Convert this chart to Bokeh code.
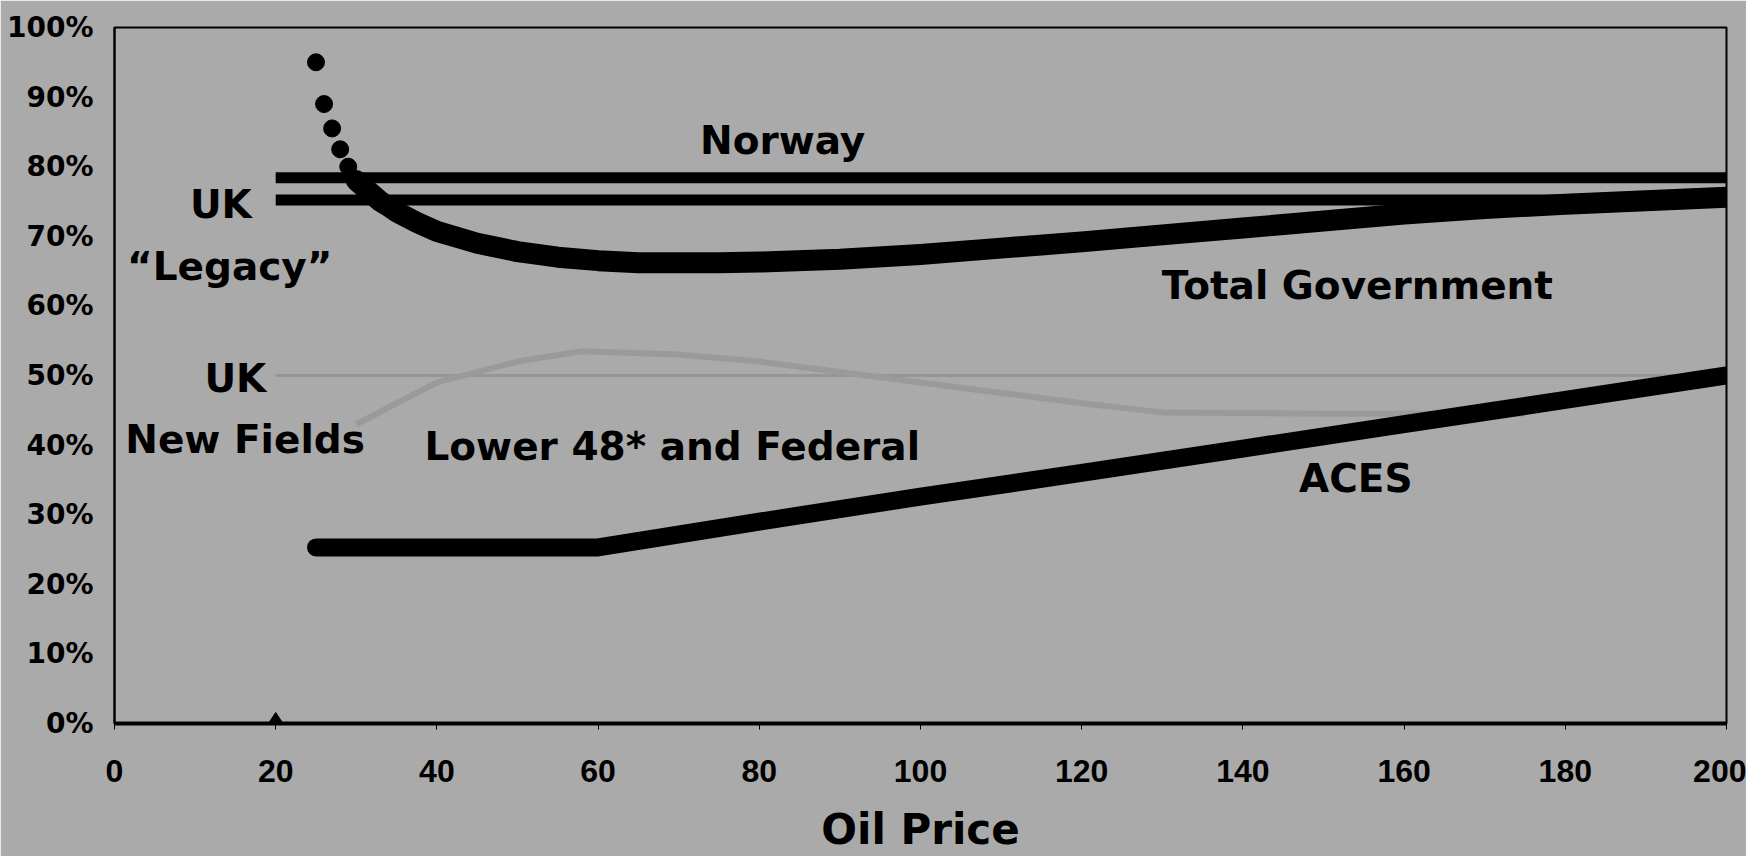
from bokeh.plotting import figure
from bokeh.models import Label, FixedTicker, NumeralTickFormatter
from bokeh.embed import file_html
from bokeh.resources import INLINE

# ---- data ----
x_ticks = [0, 20, 40, 60, 80, 100, 120, 140, 160, 180, 200]
y_ticks = [0.0, 0.1, 0.2, 0.3, 0.4, 0.5, 0.6, 0.7, 0.8, 0.9, 1.0]

norway_price = [20, 200]
norway_share = [0.784, 0.784]

uk_legacy_price = [20, 200]
uk_legacy_share = [0.752, 0.752]

total_gov_price = [25, 26, 27, 28, 29, 30, 31, 32, 33, 34, 35, 37.5, 40, 45, 50, 55, 60, 65, 70,
                   75, 80, 90, 100, 110, 120, 130, 140, 150, 160, 170, 180, 190, 200]
total_gov_share = [0.95, 0.89, 0.855, 0.825, 0.80, 0.78, 0.77, 0.76, 0.75, 0.743, 0.735, 0.72, 0.707,
                   0.69, 0.678, 0.67, 0.665, 0.662, 0.662, 0.662, 0.663, 0.667, 0.674, 0.683, 0.692,
                   0.702, 0.712, 0.722, 0.732, 0.74, 0.746, 0.751, 0.756]

aces_price = [25, 60, 80, 100, 120, 140, 160, 180, 200]
aces_share = [0.253, 0.253, 0.29, 0.326, 0.36, 0.395, 0.43, 0.465, 0.50]

uk_new_price = [20, 197]
uk_new_share = [0.50, 0.50]

lower48_price = [30, 40, 50, 58, 70, 80, 90, 100, 110, 120, 130, 150, 175]
lower48_share = [0.43, 0.49, 0.52, 0.535, 0.53, 0.52, 0.505, 0.49, 0.475, 0.46, 0.447, 0.445, 0.445]

marker_price = [20]
marker_share = [0.0]

x_title = "Oil Price"

BG = "#aaaaaa"
BOLD = "DejaVu Sans"

p = figure(width=1746, height=856, x_range=(0, 200), y_range=(0, 1.0),
           output_backend="svg", toolbar_location=None,
           min_border_left=114, min_border_right=20, min_border_top=27, min_border_bottom=133)
p.background_fill_color = BG
p.border_fill_color = BG
p.outline_line_color = "black"
p.outline_line_width = 2
p.grid.visible = False

# axes
p.xaxis.ticker = FixedTicker(ticks=x_ticks)
p.yaxis.ticker = FixedTicker(ticks=y_ticks)
p.yaxis.formatter = NumeralTickFormatter(format="0%")
p.xaxis.minor_tick_line_color = None
p.yaxis.minor_tick_line_color = None
p.yaxis.major_tick_line_color = None
p.yaxis.axis_line_width = 2
p.xaxis.axis_line_width = 4
p.xaxis.major_tick_out = 6
p.xaxis.major_tick_in = 0
p.xaxis.major_tick_line_width = 1
p.yaxis.major_label_standoff = 15
p.yaxis.major_label_text_font = BOLD
p.yaxis.major_label_text_font_style = "bold"
p.yaxis.major_label_text_font_size = "28px"
p.yaxis.major_label_text_color = "black"
p.xaxis.major_label_text_font = "Liberation Sans"
p.xaxis.major_label_text_font_style = "bold"
p.xaxis.major_label_text_font_size = "32px"
p.xaxis.major_label_text_color = "black"
p.xaxis.major_label_standoff = 30
p.xaxis.axis_label = x_title
p.xaxis.axis_label_text_font = BOLD
p.xaxis.axis_label_text_font_style = "bold"
p.xaxis.axis_label_text_font_size = "42px"
p.xaxis.axis_label_text_color = "black"
p.xaxis.axis_label_standoff = 20

# faint series
p.line(uk_new_price, uk_new_share, line_color="#969696", line_width=3)
p.line(lower48_price, lower48_share, line_color="#9a9a9a", line_width=6)

# main series
p.line(norway_price, norway_share, line_color="black", line_width=11)
p.line(uk_legacy_price, uk_legacy_share, line_color="black", line_width=11)

split = total_gov_price.index(30)
p.line(total_gov_price[split:], total_gov_share[split:], line_color="black", line_width=21,
       line_cap="round", line_join="round")
p.scatter(total_gov_price[:split + 1], total_gov_share[:split + 1], size=17,
          fill_color="black", line_color="black")

p.line(aces_price, aces_share, line_color="black", line_width=18, line_cap="round", line_join="round")

p.scatter(marker_price, marker_share, marker="diamond", size=22, fill_color="black", line_color="black")

# annotations
labels = [
    ("Norway", 82.9, 0.837),
    ("UK", 13.2, 0.745),
    ("\u201cLegacy\u201d", 14.3, 0.657),
    ("UK", 15.0, 0.495),
    ("New Fields", 16.2, 0.408),
    ("Lower 48* and Federal", 69.2, 0.398),
    ("Total Government", 154.2, 0.629),
    ("ACES", 154.0, 0.352),
]
for t, lx, ly in labels:
    p.add_layout(Label(x=lx, y=ly, text=t, text_font=BOLD, text_font_style="bold",
                       text_font_size="39px", text_color="black",
                       text_align="center", text_baseline="middle"))

open("out.html", "w").write(file_html(p, INLINE))
